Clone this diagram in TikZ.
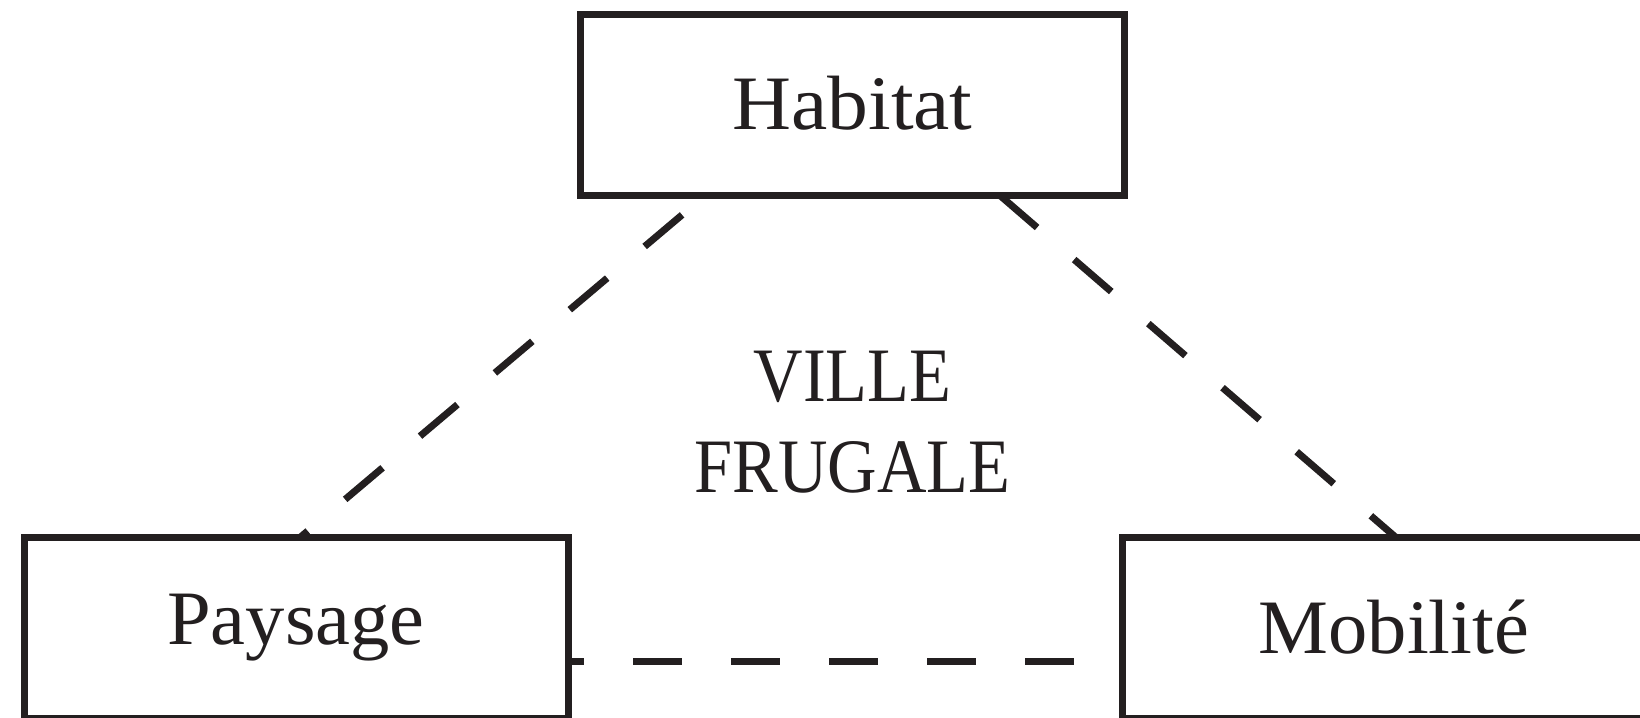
\documentclass[tikz,border=0pt]{standalone}
\usepackage{fontspec}
\setmainfont{Liberation Serif}
\definecolor{ink}{HTML}{231F20}
\begin{document}
\begin{tikzpicture}[x=0.5pt,y=-0.5pt,
  box/.style={draw=ink, line width=3.5pt, minimum width=272pt, minimum height=90.5pt,
    inner sep=0pt, outer sep=0pt, text=ink, font=\fontsize{38.5}{45.5}\selectfont},
  link/.style={draw=ink, line width=3.5pt, dash pattern=on 24.5pt off 24.5pt},
  title/.style={text=ink, align=center, font=\fontsize{38.5}{45.5}\selectfont}]
\useasboundingbox (0,0) rectangle (1640,718);
\node[box] (hab) at (852.5,105) {\raisebox{2pt}{\scalebox{1.06}[1]{Habitat}}};
\node[box] (pay) at (296,628) {\scalebox{1.02}[1]{Paysage}};
\node[box] (mob) at (1394,628) {\raisebox{1.5pt}{\scalebox{1.02}[1]{Mobilité}}};
\node[title] (ville) at (852.5,422) {\scalebox{0.89}[1]{VILLE}\\\scalebox{0.89}[1]{FRUGALE}};
\coordinate (hl) at ([xshift=-73.75pt]hab.south);
\coordinate (hr) at ([xshift=73.75pt]hab.south);
\coordinate (pt) at ([xshift=2pt]pay.north);
\coordinate (mt) at ([xshift=1pt]mob.north);
\coordinate (pe) at ([yshift=-16.5pt]pay.east);
\coordinate (mw) at ([yshift=-16.5pt]mob.west);
\draw[link, dash phase=34pt] (hl) -- (pt);
\draw[link] (hr) -- (mt);
\draw[link, dash phase=16.5pt] (pe) -- (mw);
\end{tikzpicture}
\end{document}
